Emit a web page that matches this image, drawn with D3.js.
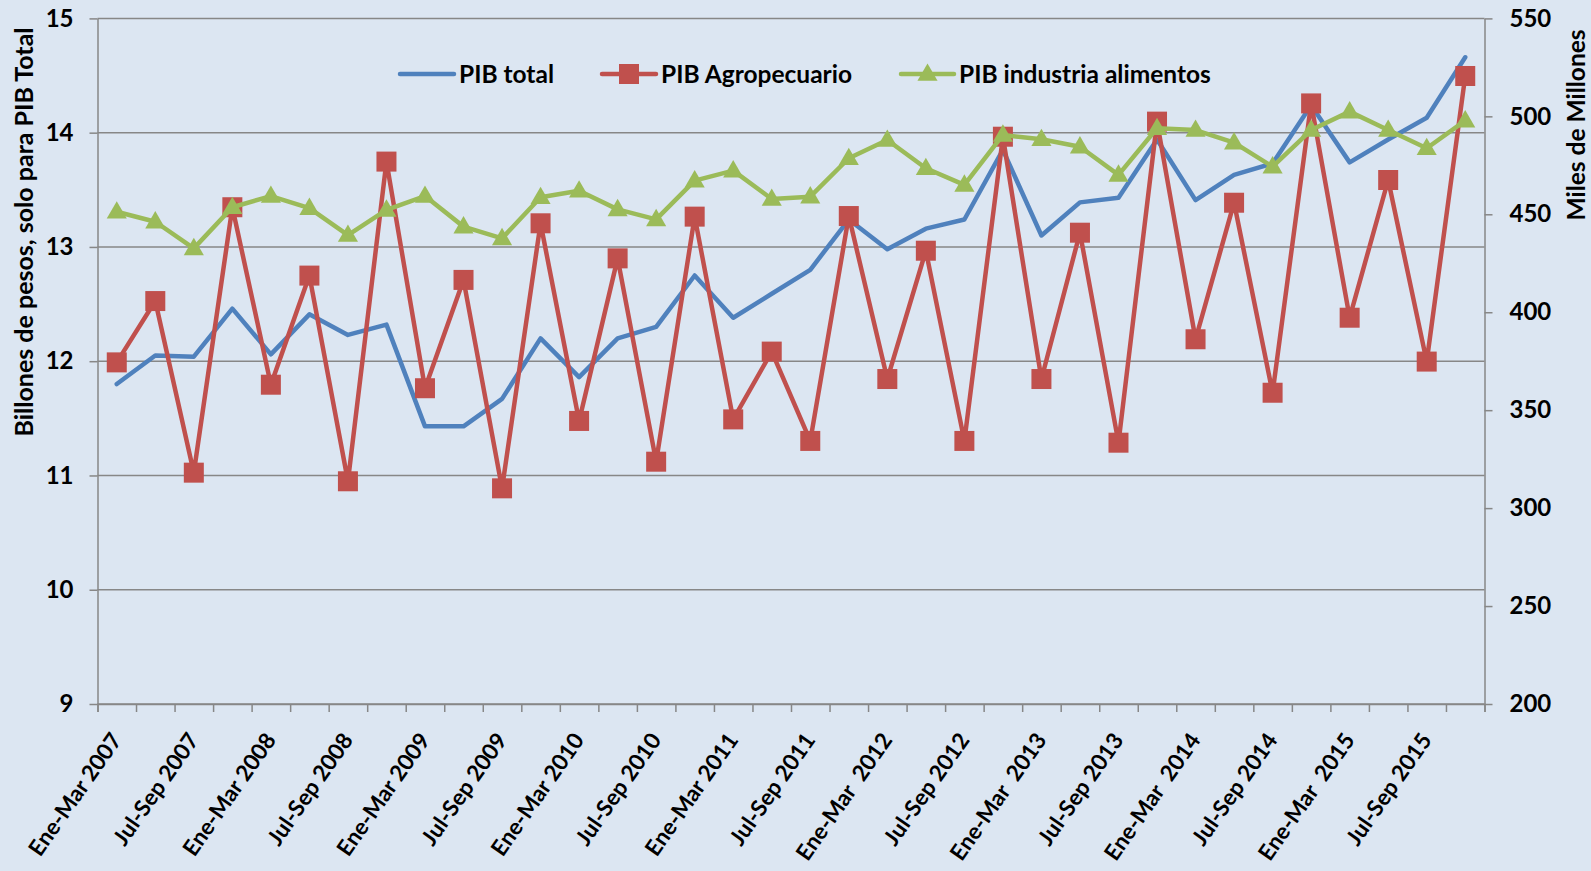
<!DOCTYPE html>
<html>
<head>
<meta charset="utf-8">
<script src="https://cdn.jsdelivr.net/npm/d3@7"></script>
<style>
  html, body { margin: 0; padding: 0; background: #dce6f2; }
  svg { display: block; font-family: Lato, 'Open Sans', sans-serif; font-weight: bold; }
  text { white-space: pre; }
</style>
</head>
<body>
<div id="app"></div>
<script>
const quarters = ['Ene-Mar', 'Abr-Jun', 'Jul-Sep', 'Oct-Dic']
const years = [2007, 2008, 2009, 2010, 2011, 2012, 2013, 2014, 2015]
const categories = years.flatMap((y) => quarters.map((q) => q + ' ' + y))
// visible labels, as written on the original (some have two spaces)
const tickLabels = [
  'Ene-Mar 2007', 'Jul-Sep 2007', 'Ene-Mar 2008', 'Jul-Sep 2008', 'Ene-Mar 2009', 'Jul-Sep 2009',
  'Ene-Mar 2010', 'Jul-Sep 2010', 'Ene-Mar 2011', 'Jul-Sep 2011', 'Ene-Mar  2012', 'Jul-Sep 2012',
  'Ene-Mar  2013', 'Jul-Sep 2013', 'Ene-Mar  2014', 'Jul-Sep 2014', 'Ene-Mar  2015', 'Jul-Sep 2015',
]

// billones de pesos (left axis)
const pibTotal = [
  11.80, 12.05, 12.04, 12.46, 12.06, 12.41, 12.23, 12.32, 11.43, 11.43, 11.67, 12.20,
  11.86, 12.20, 12.30, 12.75, 12.38, 12.59, 12.80, 13.24, 12.98, 13.16, 13.24, 13.85,
  13.10, 13.39, 13.43, 13.94, 13.41, 13.63, 13.73, 14.24, 13.74, 13.94, 14.13, 14.66,
]
// miles de millones (right axis)
const pibAgro = [
  374.4, 405.7, 318.1, 453.6, 363.0, 418.7, 313.7, 476.9, 361.2, 416.5, 310.1, 445.4,
  344.5, 427.5, 323.7, 448.8, 345.3, 379.9, 334.3, 449.1, 365.9, 431.4, 334.3, 489.6,
  365.9, 440.6, 333.4, 497.3, 386.2, 455.9, 358.9, 506.6, 397.2, 467.5, 374.8, 520.6,
]
const pibAlimentos = [
  451.3, 446.2, 432.6, 453.6, 459.3, 453.1, 439.4, 452.2, 459.3, 443.7, 437.7, 458.7,
  462.0, 452.5, 447.4, 467.2, 472.3, 457.8, 459.0, 478.6, 487.9, 473.5, 465.0, 490.5,
  488.3, 484.5, 470.1, 493.9, 493.0, 486.6, 474.3, 493.0, 502.4, 493.0, 483.7, 497.8,
]

const leftTicks = [9, 10, 11, 12, 13, 14, 15]
const rightTicks = [200, 250, 300, 350, 400, 450, 500, 550]

const config = {
  width: 1591,
  height: 871,
  left: 97.5,
  right: 1484.5,
  top: 18.4,
  bottom: 704,
  blue: '#4f81bd',
  red: '#c0504d',
  green: '#9bbb59',
  grid: '#878787',
}

const draw = () => {
  const svg = d3
    .select('#app')
    .append('svg')
    .attr('width', config.width)
    .attr('height', config.height)

  svg.append('rect').attr('width', config.width).attr('height', config.height).attr('fill', '#dce6f2')

  const x = d3.scaleBand().domain(categories).range([config.left, config.right])
  const cx = (i) => x(categories[i]) + x.bandwidth() / 2
  const xEdges = d3.scaleLinear().domain([0, categories.length]).range([config.left, config.right])
  const yL = d3.scaleLinear().domain([9, 15]).range([config.bottom, config.top])
  const yR = d3.scaleLinear().domain([200, 550]).range([config.bottom, config.top])

  // gridlines
  svg
    .append('g')
    .selectAll('line')
    .data(leftTicks)
    .join('line')
    .attr('x1', config.left)
    .attr('x2', config.right)
    .attr('y1', (d) => yL(d))
    .attr('y2', (d) => yL(d))
    .attr('stroke', config.grid)
    .attr('stroke-width', 1.5)

  const styleAxis = (g) => {
    g.select('.domain').attr('stroke', config.grid).attr('stroke-width', 1.5)
    g.selectAll('.tick line').attr('stroke', config.grid).attr('stroke-width', 1.5)
    g.selectAll('.tick text').attr('fill', '#000').attr('font-size', 24).attr('font-weight', 'bold')
      .attr('font-family', 'Lato, sans-serif')
  }

  svg
    .append('g')
    .attr('transform', `translate(${config.left},0)`)
    .call(d3.axisLeft(yL).tickValues(leftTicks).tickFormat(d3.format('d'))
      .tickSize(8).tickPadding(16).tickSizeOuter(0))
    .call(styleAxis)

  svg
    .append('g')
    .attr('transform', `translate(${config.right},0)`)
    .call(d3.axisRight(yR).tickValues(rightTicks).tickFormat(d3.format('d'))
      .tickSize(8).tickPadding(17).tickSizeOuter(0))
    .call(styleAxis)

  svg
    .append('g')
    .attr('transform', `translate(0,${config.bottom})`)
    .call(d3.axisBottom(xEdges).tickValues(d3.range(categories.length + 1)).tickSize(8).tickFormat(''))
    .call(styleAxis)

  // rotated category labels, every second quarter
  svg
    .append('g')
    .selectAll('text')
    .data(tickLabels)
    .join('text')
    .attr('transform', (d, i) => `translate(${cx(i * 2) + 6},740) rotate(-55)`)
    .attr('text-anchor', 'end')
    .attr('font-size', 22.5)
    .attr('fill', '#000')
    .text((d) => d)

  // axis titles
  svg
    .append('text')
    .attr('transform', 'translate(33,232) rotate(-90)')
    .attr('text-anchor', 'middle')
    .attr('font-size', 25)
    .text('Billones de pesos, solo para PIB Total')
  svg
    .append('text')
    .attr('transform', 'translate(1585,125) rotate(-90)')
    .attr('text-anchor', 'middle')
    .attr('font-size', 24.5)
    .text('Miles de Millones')

  const idx = d3.range(categories.length)
  const lineL = d3.line().x((i) => cx(i)).y((i) => yL(pibTotal[i]))
  const lineAgro = d3.line().x((i) => cx(i)).y((i) => yR(pibAgro[i]))
  const lineAli = d3.line().x((i) => cx(i)).y((i) => yR(pibAlimentos[i]))

  const sq = 20
  const tri = d3.symbol().type(d3.symbolTriangle).size(175)

  // PIB total
  svg.append('path').attr('d', lineL(idx)).attr('fill', 'none').attr('stroke', config.blue)
    .attr('stroke-width', 4.5).attr('stroke-linejoin', 'round').attr('stroke-linecap', 'round')

  // PIB Agropecuario
  svg.append('path').attr('d', lineAgro(idx)).attr('fill', 'none').attr('stroke', config.red)
    .attr('stroke-width', 4.5).attr('stroke-linejoin', 'round')
  svg.append('g').selectAll('rect').data(idx).join('rect')
    .attr('x', (i) => cx(i) - sq / 2).attr('y', (i) => yR(pibAgro[i]) - sq / 2)
    .attr('width', sq).attr('height', sq).attr('fill', config.red)

  // PIB industria alimentos
  svg.append('path').attr('d', lineAli(idx)).attr('fill', 'none').attr('stroke', config.green)
    .attr('stroke-width', 4.5).attr('stroke-linejoin', 'round')
  svg.append('g').selectAll('path').data(idx).join('path')
    .attr('d', tri)
    .attr('transform', (i) => `translate(${cx(i)},${yR(pibAlimentos[i]) + 1})`)
    .attr('fill', config.green)

  // legend
  const legend = svg.append('g').attr('font-size', 24.5)
  const ly = 74
  const items = [
    {name: 'PIB total', color: config.blue, x0: 400, x1: 454, tx: 459, marker: null},
    {name: 'PIB Agropecuario', color: config.red, x0: 602, x1: 656, tx: 661, marker: 'sq'},
    {name: 'PIB industria alimentos', color: config.green, x0: 901, x1: 954, tx: 959, marker: 'tri'},
  ]
  items.forEach((it) => {
    legend.append('line').attr('x1', it.x0).attr('x2', it.x1).attr('y1', ly).attr('y2', ly)
      .attr('stroke', it.color).attr('stroke-width', 4.5).attr('stroke-linecap', 'round')
    const mx = (it.x0 + it.x1) / 2
    if (it.marker === 'sq') {
      legend.append('rect').attr('x', mx - sq / 2).attr('y', ly - sq / 2).attr('width', sq).attr('height', sq)
        .attr('fill', it.color)
    } else if (it.marker === 'tri') {
      legend.append('path').attr('d', tri).attr('transform', `translate(${mx},${ly + 1})`).attr('fill', it.color)
    }
    legend.append('text').attr('x', it.tx).attr('y', ly + 9).attr('fill', '#000').text(it.name)
  })
}
draw()
</script>
</body>
</html>
